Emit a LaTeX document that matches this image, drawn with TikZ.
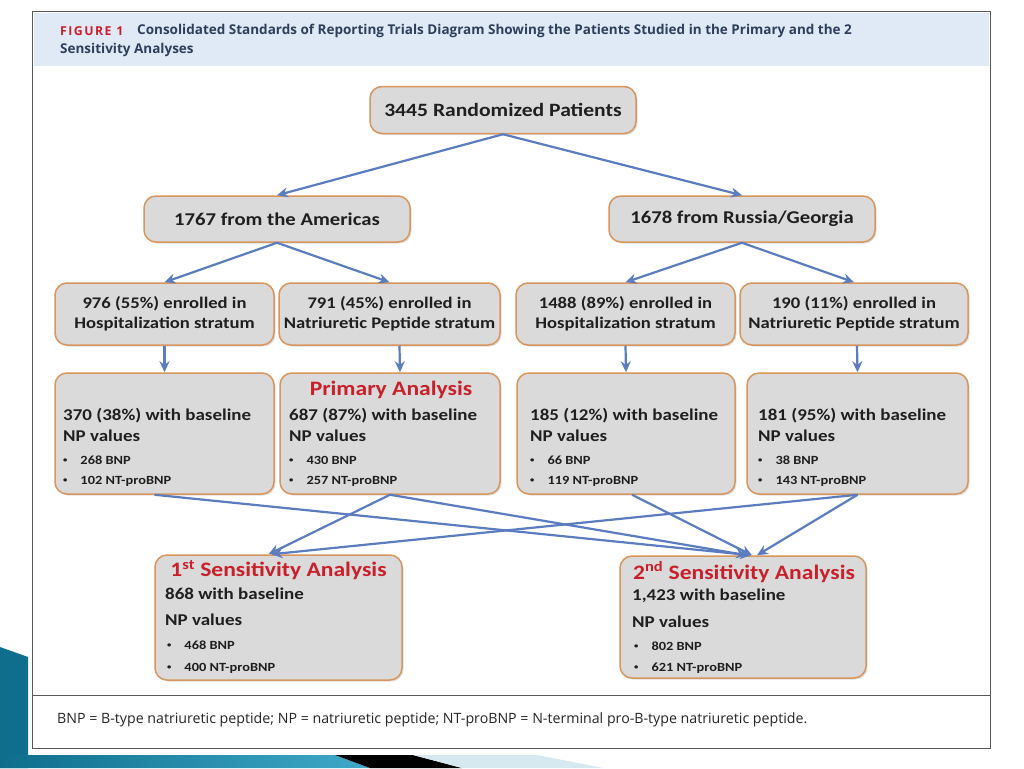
\documentclass[tikz,border=0pt]{standalone}
\usepackage{fontspec}
\setmainfont{Carlito}
\newfontfamily\boxf[FakeStretch=1.15]{Carlito}
\newfontfamily\headf{Open Sans}
\newfontfamily\figf[LetterSpace=12]{Open Sans}
\usetikzlibrary{arrows.meta,shadows}
\definecolor{arr}{HTML}{5B7DBF}
\definecolor{bord}{HTML}{D8955C}
\definecolor{boxfill}{HTML}{DADADA}
\definecolor{redt}{HTML}{C8202A}
\definecolor{headbg}{HTML}{DFEAF6}
\definecolor{headtxt}{HTML}{2E3F5C}
\definecolor{teal1}{HTML}{0E6E8C}
\definecolor{teal2}{HTML}{3FA9C9}
\definecolor{lblue}{HTML}{D6E8F0}
\newcommand{\smbul}{\raisebox{1.5pt}{\scalebox{0.6}{\textbullet}}}
\begin{document}
\begin{tikzpicture}[x=1pt,y=-1pt,
  box/.style={draw=bord,line width=1.5pt,fill=boxfill,rounded corners=12pt,
    drop shadow={shadow xshift=1.5pt,shadow yshift=-1.5pt,opacity=0.25},
    inner sep=0pt,align=center,text=black!88},
  conn/.style={draw=arr,line width=2.2pt,-{Stealth[length=11pt,width=10pt]}},
  t3/.style={font=\boxf\bfseries\fontsize{16.2}{19.5}\selectfont},
  mainl/.style={anchor=west,inner sep=0pt,text=black!88,font=\boxf\bfseries\fontsize{16.5}{20}\selectfont},
  bul/.style={anchor=west,inner sep=0pt,text=black!88,font=\boxf\bfseries\fontsize{12.5}{14}\selectfont},
  ttl/.style={inner sep=0pt,text=redt,font=\boxf\bfseries\fontsize{20.5}{24}\selectfont}]
\useasboundingbox (0,0) rectangle (1024,768);
% slide decoration
\fill[teal1] (0,647) -- (28,657) -- (28,768) -- (0,768) -- cycle;
\shade[left color=teal1,right color=teal2] (0,755) -- (335,755) -- (370,768) -- (0,768) -- cycle;
\fill[black] (335,755) -- (413,755) -- (462,768) -- (370,768) -- cycle;
\fill[lblue] (413,755) -- (537,755) -- (603,768) -- (462,768) -- cycle;
% frame
\filldraw[fill=white,draw=black!65,line width=1pt] (32,12) rectangle (990,748);
\fill[headbg] (33.5,13.5) rectangle (988.5,66);
\draw[black!65,line width=1pt] (32,695) -- (990,695);
\node[anchor=west,inner sep=0pt,text=redt,font=\figf\bfseries\fontsize{12.3}{14}\selectfont] (fig) at (60,31) {FIGURE 1};
\node[anchor=west,inner sep=0pt,text=headtxt,font=\headf\bfseries\fontsize{13.5}{15}\selectfont] (h1l) at (137,31) {Consolidated Standards of Reporting Trials Diagram Showing the Patients Studied in the Primary and the 2};
\node[anchor=west,inner sep=0pt,text=headtxt,font=\headf\bfseries\fontsize{13.5}{15}\selectfont] (h2l) at (60,50) {Sensitivity Analyses};
\node[anchor=west,inner sep=0pt,text=black!85,font=\headf\fontsize{14.2}{16}\selectfont] (foot) at (57,720) {BNP = B-type natriuretic peptide; NP = natriuretic peptide; NT-proBNP = N-terminal pro-B-type natriuretic peptide.};
% row 1-2
\node[box,minimum width=266pt,minimum height=47pt,font=\boxf\bfseries\fontsize{18.8}{22}\selectfont] (top) at (503,110) {3445 Randomized Patients};
\node[box,minimum width=266pt,minimum height=46pt,font=\boxf\bfseries\fontsize{18}{22}\selectfont] (am) at (277,219) {1767 from the Americas};
\node[box,minimum width=266pt,minimum height=46pt,font=\boxf\bfseries\fontsize{18}{22}\selectfont] (ru) at (742,219) {1678 from Russia/Georgia};
% row 3
\node[box,t3,minimum width=219pt,minimum height=62pt] (s1) at (164.5,314) {976 (55\%) enrolled in\\Hospitalization stratum};
\node[box,t3,minimum width=221pt,minimum height=62pt] (s2) at (389.5,314) {791 (45\%) enrolled in\\Natriuretic Peptide stratum};
\node[box,t3,minimum width=219pt,minimum height=62pt] (s3) at (625.5,314) {1488 (89\%) enrolled in\\Hospitalization stratum};
\node[box,t3,minimum width=228pt,minimum height=62pt] (s4) at (854,314) {190 (11\%) enrolled in\\Natriuretic Peptide stratum};
% row 4
\node[box,minimum width=219pt,minimum height=121pt] (n1) at (164.5,433.5) {};
\node[box,minimum width=220pt,minimum height=121pt] (n2) at (390,433.5) {};
\node[box,minimum width=218pt,minimum height=121pt] (n3) at (626,433.5) {};
\node[box,minimum width=221pt,minimum height=121pt] (n4) at (857.5,433.5) {};
\node[ttl] (pa) at (391,390) {Primary Analysis};
\foreach \nm/\x/\a/\b/\c in {a/63/370 (38\%)/268/102, b/289/687 (87\%)/430/257, c/530/185 (12\%)/66/119, d/758/181 (95\%)/38/143}{
  \node[mainl] (m\nm) at (\x,416) {\a{} with baseline};
  \node[mainl] (v\nm) at (\x,436) {NP values};
  \node[bul] (p\nm) at (\x,460) {\smbul\hspace{13pt}\b{} BNP};
  \node[bul] (q\nm) at (\x,481) {\smbul\hspace{13pt}\c{} NT-proBNP};
}
% row 5
\node[box,minimum width=247pt,minimum height=125pt] (f1) at (278.5,617.5) {};
\node[box,minimum width=246pt,minimum height=122pt] (f2) at (743,617) {};
\node[ttl] (t1) at (278.5,570) {1\textsuperscript{st} Sensitivity Analysis};
\node[ttl] (t2) at (744,572) {2\textsuperscript{nd} Sensitivity Analysis};
\node[mainl] (m1) at (165,594) {868 with baseline};
\node[mainl] (v1) at (165,620) {NP values};
\node[bul] (p1) at (167,645) {\smbul\hspace{13pt}468 BNP};
\node[bul] (q1) at (167,668) {\smbul\hspace{13pt}400 NT-proBNP};
\node[mainl] (m2) at (632,596) {1,423 with baseline};
\node[mainl] (v2) at (632,622) {NP values};
\node[bul] (p2) at (634,646) {\smbul\hspace{13pt}802 BNP};
\node[bul] (q2) at (634,668) {\smbul\hspace{13pt}621 NT-proBNP};
% connectors
\draw[conn] (top.south) -- (am.north);
\draw[conn] (top.south) -- (ru.north);
\draw[conn] (am.south) -- (s1.north);
\draw[conn] (am.south) -- (s2.north);
\draw[conn] (ru.south) -- (s3.north);
\draw[conn] (ru.south) -- (s4.north);
\draw[conn] (s1.south) -- (n1.north);
\draw[conn] ([xshift=10pt]s2.south) -- ([xshift=10pt]n2.north);
\draw[conn] (s3.south) -- (n3.north);
\draw[conn] ([xshift=3pt]s4.south) -- (n4.north);
\draw[conn] ([xshift=-10pt]n1.south) -- ([xshift=8pt]f2.north);
\draw[conn] (n2.south) -- ([xshift=-10pt]f1.north);
\draw[conn] (n2.south) -- ([xshift=4pt]f2.north);
\draw[conn] ([xshift=6pt]n3.south) -- ([xshift=9pt]f2.north);
\draw[conn] (n4.south) -- ([xshift=-7pt]f1.north);
\draw[conn] (n4.south) -- ([xshift=14pt]f2.north);
\end{tikzpicture}
\end{document}
